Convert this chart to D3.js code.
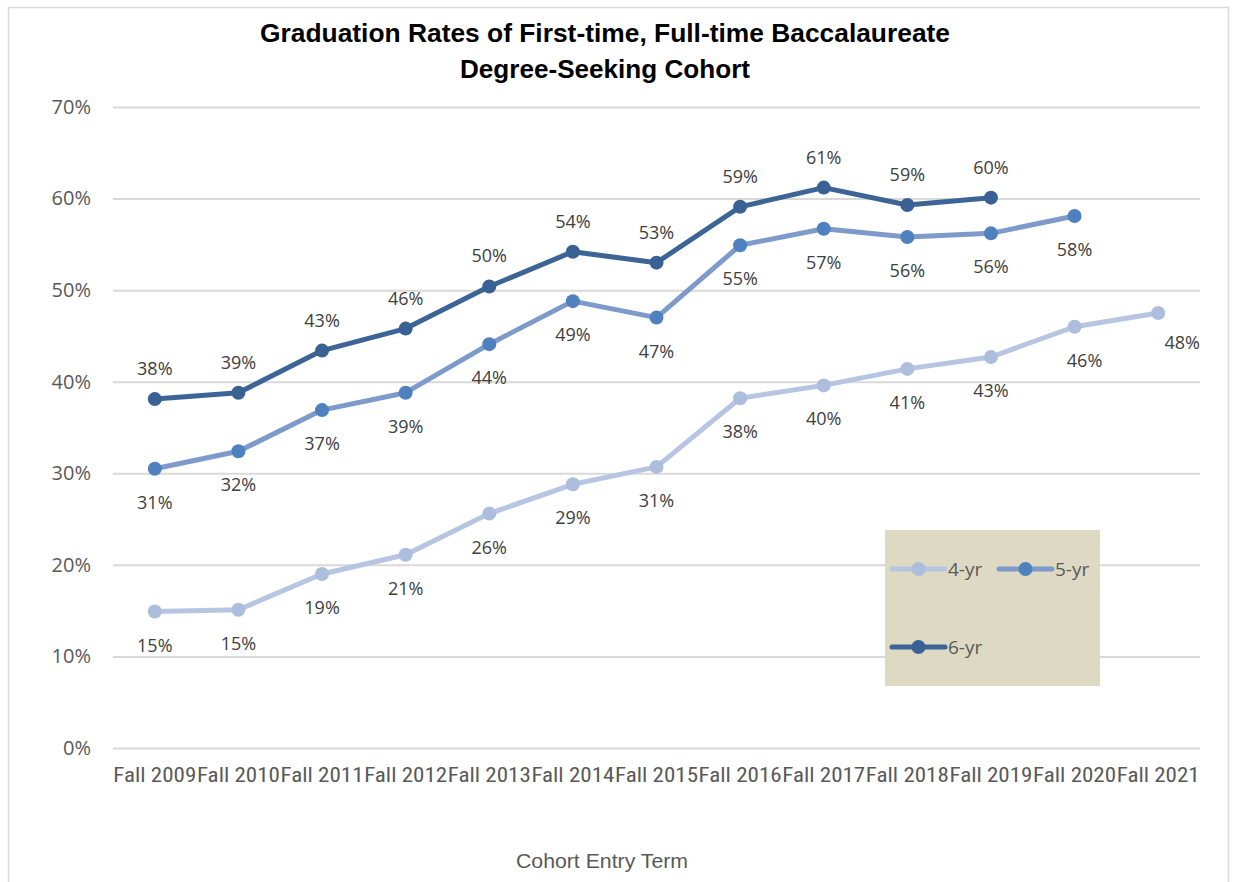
<!DOCTYPE html>
<html><head><meta charset="utf-8">
<script src="https://cdn.jsdelivr.net/npm/d3@7"></script>
<style>
html,body{margin:0;padding:0;background:#fff;}
svg{display:block;}
</style></head>
<body>
<svg id="chart" width="1238" height="882"></svg>
<script>
const categories = ["Fall 2009","Fall 2010","Fall 2011","Fall 2012","Fall 2013","Fall 2014","Fall 2015","Fall 2016","Fall 2017","Fall 2018","Fall 2019","Fall 2020","Fall 2021"];
const yr4 = [14.9,15.1,19.0,21.1,25.6,28.8,30.7,38.2,39.6,41.4,42.7,46.0,47.5];
const yr5 = [30.5,32.4,36.9,38.8,44.1,48.8,47.0,54.9,56.7,55.8,56.2,58.1,null];
const yr6 = [38.1,38.8,43.4,45.8,50.4,54.2,53.0,59.1,61.2,59.3,60.1,null,null];
const seriesNames = ["4-yr","5-yr","6-yr"];
const yTicks = [0,10,20,30,40,50,60,70];

const series = [
  {name:seriesNames[0], values:yr4, line:"#b6c5e1", marker:"#adbddd", labelPos:"below"},
  {name:seriesNames[1], values:yr5, line:"#7d9acb", marker:"#4f81bf", labelPos:"below"},
  {name:seriesNames[2], values:yr6, line:"#3c6496", marker:"#3a6194", labelPos:"above"}
];

const svg = d3.select("#chart");
const W = 1238, H = 882;
const pL = 113, pR = 1200, pT = 107, pB = 748;

// outer border
svg.append("rect").attr("x",8.5).attr("y",7.5).attr("width",1220).attr("height",H+10)
  .attr("fill","#fff").attr("stroke","#d9d9d9").attr("stroke-width",1.5);

const x = d3.scaleBand().domain(categories).range([pL,pR]).paddingInner(0).paddingOuter(0);
const cx = d => x(d) + x.bandwidth()/2;
const y = d3.scaleLinear().domain([0,70]).range([pB,pT]);

// gridlines
const yAxis = d3.axisLeft(y).tickValues(yTicks).tickSize(-(pR-pL)).tickFormat(d => d + "%").tickPadding(22);
const gy = svg.append("g").attr("transform",`translate(${pL},0)`).call(yAxis);
gy.select(".domain").remove();
gy.selectAll(".tick line").attr("stroke","#d9d9d9").attr("stroke-width",2);
gy.selectAll(".tick text").attr("font-family","'Open Sans','Noto Sans',sans-serif").attr("font-size",20).attr("fill","#595959");

// x axis labels
const xAxis = d3.axisBottom(x).tickSize(0).tickPadding(20);
const gx = svg.append("g").attr("transform",`translate(0,${pB})`).call(xAxis);
gx.select(".domain").remove();
gx.selectAll(".tick text").attr("font-family","'Liberation Sans Narrow','Roboto Condensed','Liberation Sans',sans-serif")
  .attr("font-size",20).attr("fill","#595959")
  .attr("textLength",83).attr("lengthAdjust","spacingAndGlyphs");

// titles
const title = svg.append("g").attr("font-family","'Liberation Sans Narrow','Liberation Sans',sans-serif").attr("font-weight","bold").attr("font-size",25).attr("fill","#000").attr("text-anchor","middle");
title.append("text").attr("x",605).attr("y",42).text("Graduation Rates of First-time, Full-time Baccalaureate").attr("textLength",690).attr("lengthAdjust","spacingAndGlyphs");
title.append("text").attr("x",605).attr("y",78).text("Degree-Seeking Cohort").attr("textLength",290).attr("lengthAdjust","spacingAndGlyphs");

svg.append("text").attr("x",602).attr("y",868).attr("text-anchor","middle")
  .attr("font-family","'Liberation Sans Narrow','Liberation Sans',sans-serif").attr("font-size",20).attr("fill","#595959")
  .attr("textLength",172).attr("lengthAdjust","spacingAndGlyphs")
  .text("Cohort Entry Term");

// lines
const lineGen = d3.line().defined(d => d.v != null).x(d => cx(d.c)).y(d => y(d.v));
const labelShift = {"4-yr-11":10, "4-yr-12":24};

series.forEach(s => {
  const pts = categories.map((c,i) => ({c, v:s.values[i], i}));
  const g = svg.append("g");
  g.append("path").datum(pts).attr("d",lineGen).attr("fill","none").attr("stroke",s.line)
    .attr("stroke-width",5).attr("stroke-linejoin","round").attr("stroke-linecap","round");
  const valid = pts.filter(d => d.v != null);
  g.selectAll("circle").data(valid).join("circle").attr("cx",d=>cx(d.c)).attr("cy",d=>y(d.v)).attr("r",7).attr("fill",s.marker);
  g.selectAll("text").data(valid).join("text")
    .attr("x",d=>cx(d.c) + (labelShift[s.name+"-"+d.i]||0))
    .attr("y",d=>y(d.v) + (s.labelPos==="above" ? -24 : 40) + (s.name==="4-yr" && d.i===12 ? -4 : 0))
    .attr("text-anchor","middle")
    .attr("font-family","'Open Sans','Noto Sans',sans-serif").attr("font-size",18).attr("fill","#404040")
    .text(d => Math.round(d.v) + "%");
});

// legend
const lg = svg.append("g");
lg.append("rect").attr("x",885).attr("y",530).attr("width",215).attr("height",156).attr("fill","#ddd9c3");
const legendItems = [
  {s:series[0], x:892, y:569},
  {s:series[1], x:999, y:569},
  {s:series[2], x:892, y:647}
];
legendItems.forEach(it => {
  lg.append("line").attr("x1",it.x).attr("x2",it.x+53).attr("y1",it.y).attr("y2",it.y)
    .attr("stroke",it.s.line).attr("stroke-width",5).attr("stroke-linecap","round");
  lg.append("circle").attr("cx",it.x+26.5).attr("cy",it.y).attr("r",7).attr("fill",it.s.marker);
  lg.append("text").attr("x",it.x+56).attr("y",it.y+7).attr("font-family","'Open Sans','Noto Sans',sans-serif")
    .attr("font-size",19).attr("fill","#595959").text(it.s.name);
});
</script>
</body></html>
